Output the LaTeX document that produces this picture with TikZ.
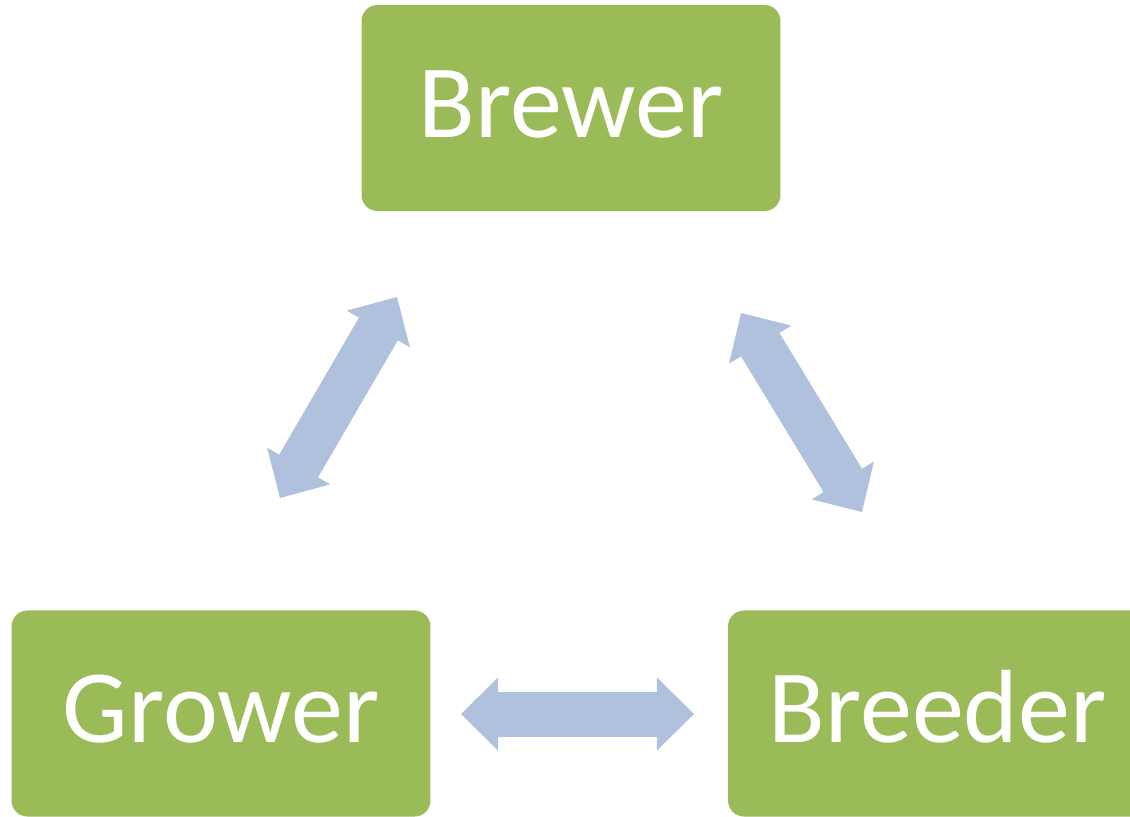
\documentclass[tikz,border=0pt]{standalone}
\usepackage{fontspec}
\setmainfont{Carlito}
\usetikzlibrary{positioning, arrows.meta}
\definecolor{mygreen}{RGB}{155,187,89}
\definecolor{myblue}{RGB}{176,193,222}
\tikzset{ % boxes and block arrows
  my box/.style={rectangle,rounded corners=0.4cm,fill=mygreen,text=white,inner sep=0,
    minimum width=10.47cm,minimum height=5.15cm,
    font=\fontsize{74}{80}\selectfont,text height=46.8pt,text depth=5pt},
  my link/.style={myblue,line width=1.125cm,
    >={Triangle[length=0.925cm,width=1.825cm,line width=0pt]},<->}
}

\begin{document}
\begin{tikzpicture}[x=0.025cm,y=-0.025cm]
\useasboundingbox (0,0) rectangle (1130,816);
\clip (0,0) rectangle (1130,816);

\node[my box] (brewer)  at (571,108)   {Brewer};
\node[my box] (grower)  at (221,713.5) {Grower};
\node[my box] (breeder) at (937.5,713.5) {Breeder};

% arrow ends
\coordinate (gw1) at (280,498);
\coordinate (gw2) at (397,297);
\coordinate (bd1) at (741,313);
\coordinate (bd2) at (862,512);
\coordinate (gb1) at (461,714);
\coordinate (gb2) at (694,714);

% connections
\foreach\i/\j in {gw1/gw2,bd1/bd2,gb1/gb2}
  \draw[my link] (\i) -- (\j);
\end{tikzpicture}
\end{document}
